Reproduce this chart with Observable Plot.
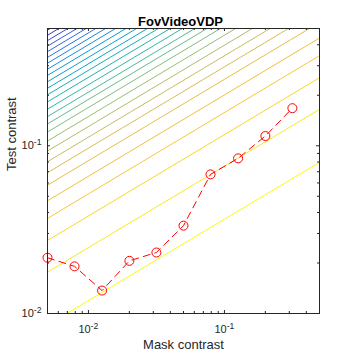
<!DOCTYPE html>
<html><head><meta charset="utf-8">
<script src="https://cdn.jsdelivr.net/npm/d3@7"></script>
<script src="https://cdn.jsdelivr.net/npm/@observablehq/plot@0.6"></script>
<style>body{margin:0;background:#fff;}</style>
</head><body><div id="chart"></div>
<script>
// Measured data (red dashed line)
const maskContrast = [0.005, 0.0079, 0.0126, 0.02, 0.0316, 0.05, 0.079, 0.126, 0.2, 0.316];
const testContrast = [0.0215, 0.0191, 0.0137, 0.0206, 0.0231, 0.0334, 0.0675, 0.0841, 0.1143, 0.1675];

// Contour lines: test contrast where each level crosses mask contrast = 0.005 (bottom to top)
const contourIntercepts = [0.00853, 0.01765, 0.02725, 0.0369, 0.0470, 0.0582, 0.0691, 0.0804, 0.0930,
  0.1067, 0.1208, 0.1349, 0.1492, 0.1652, 0.1827, 0.2012, 0.2201, 0.2407, 0.2626, 0.2860,
  0.3106, 0.3364, 0.3640, 0.3926, 0.4235, 0.4558, 0.4895];
const contourSlope = 0.485; // log-log slope of the contour lines

const xDomain = [0.005, 0.5];
const yDomain = [0.01, 0.5];
const xMajorTicks = [0.01, 0.1];
const yMajorTicks = [0.01, 0.1];
const xMinorTicks = [0.006, 0.007, 0.008, 0.009, 0.02, 0.03, 0.04, 0.05, 0.06, 0.07, 0.08, 0.09, 0.2, 0.3, 0.4];
const yMinorTicks = [0.02, 0.03, 0.04, 0.05, 0.06, 0.07, 0.08, 0.09, 0.2, 0.3, 0.4];
const parulaStops = ["#3e26a8", "#3a5ce9", "#1a86dc", "#08a7c9", "#2eb7a4", "#87bf77", "#d1bb59", "#fbc034", "#f9fb0e"];

const parula = d3.piecewise(d3.interpolateRgb, parulaStops);
const n = contourIntercepts.length;
const contourData = contourIntercepts.flatMap((c, i) => xDomain.map(x => ({
  x, y: c * Math.pow(x / xDomain[0], contourSlope), id: i,
  color: parula(1 - i / (n - 1))
})));
const measured = maskContrast.map((x, i) => ({x, y: testContrast[i]}));

const W = 354, H = 354, mT = 28, mB = 41, mL = 47, mR = 35;
const fh = H - mT - mB, fw = W - mL - mR;
const axisColor = "#262626";

const chart = Plot.plot({
  width: W, height: H,
  marginTop: mT, marginBottom: mB, marginLeft: mL, marginRight: mR,
  style: {fontFamily: "'Liberation Sans', Arial, sans-serif", fontSize: "11px", background: "#fff", color: axisColor},
  x: {type: "log", domain: xDomain},
  y: {type: "log", domain: yDomain},
  color: {type: "identity"},
  marks: [
    Plot.line(contourData, {x: "x", y: "y", z: "id", stroke: "color", strokeWidth: 1, clip: true}),
    Plot.line(measured, {x: "x", y: "y", stroke: "#ff0000", strokeWidth: 1, strokeDasharray: "7,5"}),
    Plot.dot(measured, {x: "x", y: "y", r: 4.5, stroke: "#ff0000", fill: "none", strokeWidth: 1}),
    Plot.frame({stroke: axisColor, strokeWidth: 1}),
    Plot.ruleX(xMajorTicks, {insetTop: fh - 3, stroke: axisColor}),
    Plot.ruleX(xMajorTicks, {insetBottom: fh - 3, stroke: axisColor}),
    Plot.ruleX(xMinorTicks, {insetTop: fh - 2, stroke: axisColor}),
    Plot.ruleX(xMinorTicks, {insetBottom: fh - 2, stroke: axisColor}),
    Plot.ruleY(yMajorTicks, {insetRight: fw - 3, stroke: axisColor}),
    Plot.ruleY(yMajorTicks, {insetLeft: fw - 3, stroke: axisColor}),
    Plot.ruleY(yMinorTicks, {insetRight: fw - 2, stroke: axisColor}),
    Plot.ruleY(yMinorTicks, {insetLeft: fw - 2, stroke: axisColor}),
    Plot.axisX({ticks: xMajorTicks, tickSize: 0, tickPadding: 12, label: null,
      tickFormat: d => `10^${Math.round(Math.log10(d))}`}),
    Plot.axisY({ticks: yMajorTicks, tickSize: 0, tickPadding: 6, label: null,
      tickFormat: d => `10^${Math.round(Math.log10(d))}`}),
    Plot.text(["Mask contrast"], {text: d => d, frameAnchor: "bottom", dy: 35, fontSize: 13, fill: axisColor}),
    Plot.text(["Test contrast"], {text: d => d, frameAnchor: "left", dx: -36, rotate: -90, fontSize: 13, fill: axisColor}),
    Plot.text(["FovVideoVDP"], {text: d => d, frameAnchor: "top", dx: -3, dy: -11.6, fontSize: 13, fontWeight: "bold", fill: "#000"})
  ]
});

d3.select(chart).selectAll('g[aria-label$="tick label"] text').each(function () {
  const m = this.textContent.match(/^10\^(.*)$/);
  if (!m) return;
  const t = d3.select(this);
  t.text("10");
  t.append("tspan").attr("dy", "-0.45em").attr("font-size", "0.78em").text(m[1]);
});

document.getElementById("chart").appendChild(chart);
</script>
</body></html>
